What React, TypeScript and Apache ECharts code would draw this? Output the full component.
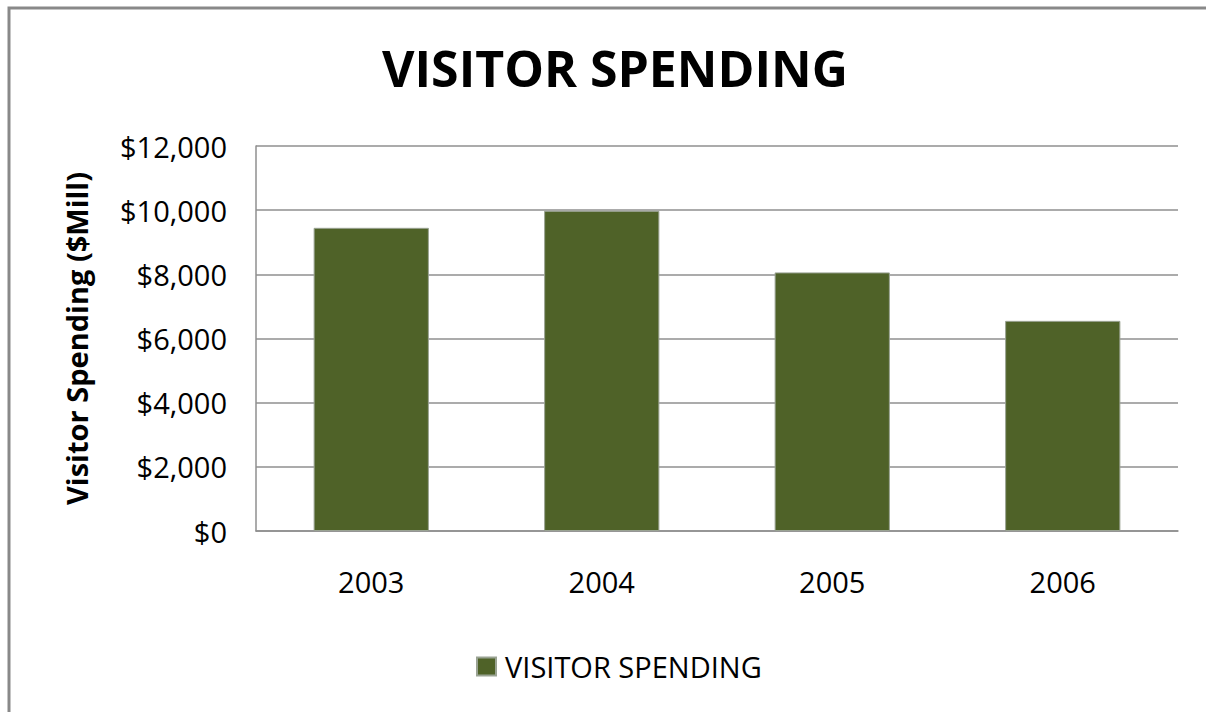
import React, { useEffect, useRef } from "react";
import * as echarts from "echarts";

const categories = ["2003", "2004", "2005", "2006"];
const spending = [9450, 9980, 8060, 6550];
const yTicks = [0, 2000, 4000, 6000, 8000, 10000, 12000];
const seriesName = "VISITOR SPENDING";
const titleText = "VISITOR SPENDING";
const yAxisTitle = "Visitor Spending ($Mill)";

const FONT = "'Open Sans', 'Liberation Sans', sans-serif";

export default function App() {
  const ref = useRef<HTMLDivElement>(null);
  useEffect(() => {
    document.body.style.margin = "0";
    const chart = echarts.init(ref.current!, undefined, { renderer: "svg" });
    chart.setOption({
      animation: false,
      backgroundColor: "#ffffff",
      title: {
        text: titleText,
        left: 610,
        top: 38,
        textAlign: "center",
        textStyle: { fontFamily: FONT, fontSize: 50, fontWeight: "bold", color: "#000" },
      },
      legend: {
        data: [seriesName],
        left: 471,
        top: 647,
        itemWidth: 19,
        itemHeight: 18,
        icon: "rect",
        textStyle: { fontFamily: FONT, fontSize: 29, color: "#000", padding: [0, 0, 0, 4] },
      },
      graphic: [
        {
          type: "rect",
          shape: { x: 9, y: 8, width: 1400, height: 900 },
          style: { fill: "none", stroke: "#898989", lineWidth: 3 },
          silent: true,
        },
      ],
      grid: { left: 256, top: 146, width: 922, height: 385, containLabel: false },
      xAxis: {
        type: "category",
        data: categories,
        axisLine: { show: true, lineStyle: { color: "#8f8f8f", width: 1.5 } },
        axisTick: { show: false },
        axisLabel: { fontFamily: FONT, fontSize: 29, color: "#000", margin: 36 },
      },
      yAxis: {
        type: "value",
        min: yTicks[0],
        max: yTicks[yTicks.length - 1],
        interval: 2000,
        name: yAxisTitle,
        nameLocation: "middle",
        nameRotate: 90,
        nameGap: 165,
        nameTextStyle: { fontFamily: FONT, fontSize: 29, fontWeight: "bold", color: "#000" },
        axisLine: { show: true, lineStyle: { color: "#8f8f8f", width: 1.5 } },
        axisTick: { show: false },
        splitLine: { show: true, lineStyle: { color: "#8f8f8f", width: 1.5 } },
        axisLabel: {
          fontFamily: FONT,
          fontSize: 29,
          color: "#000",
          margin: 29,
          formatter: (v: number) => "$" + v.toLocaleString("en-US"),
        },
      },
      series: [
        {
          name: seriesName,
          type: "bar",
          data: spending,
          barCategoryGap: "50%",
          itemStyle: { color: "#4f6228", borderColor: "#9aa393", borderWidth: 1 },
        },
      ],
    });
    return () => chart.dispose();
  }, []);
  return (
    <div
      ref={ref}
      style={{ position: "absolute", left: 0, top: 0, width: 1206, height: 712 }}
    />
  );
}
